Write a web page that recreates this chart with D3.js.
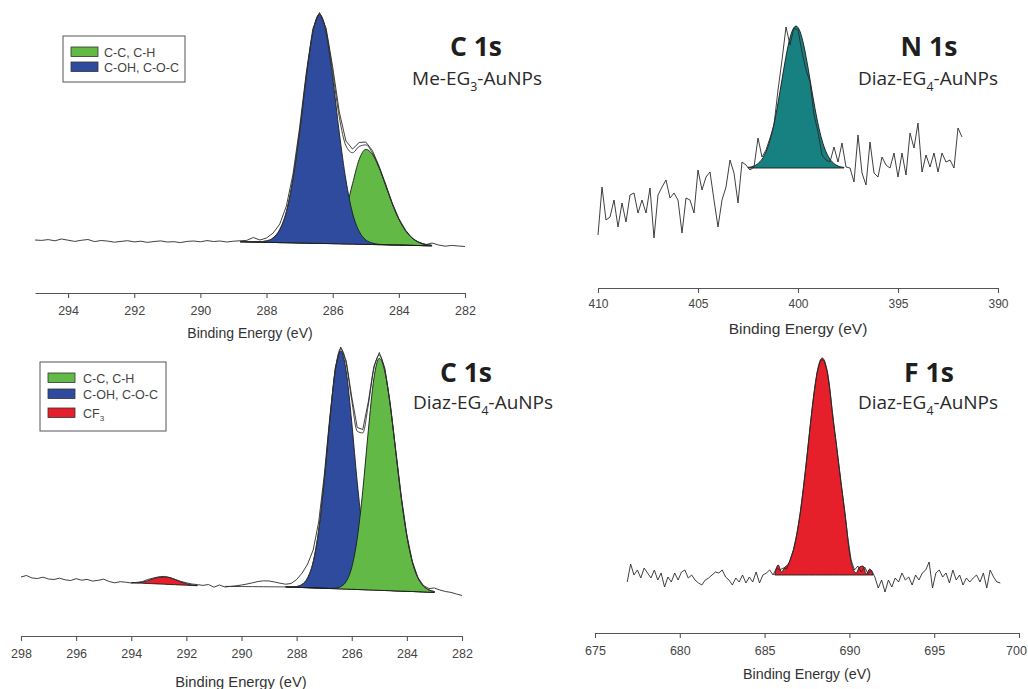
<!DOCTYPE html>
<html><head><meta charset="utf-8">
<script src="https://cdn.jsdelivr.net/npm/d3@7"></script>
<style>body{margin:0;background:#fff}</style>
</head><body>
<svg id="chart" width="1028" height="689"></svg>
<script>
// ===== Panel A: C 1s, Me-EG3-AuNPs (intensity, a.u.) =====
const c1aRawStart = 295.0, c1aRawStep = -0.2;
const c1aRaw = [10.0, 9.6, 10.4, 9.2, 11.0, 9.8, 8.6, 9.7, 10.5, 8.4, 9.5, 8.9, 7.8, 8.6, 9.3, 8.1, 8.8, 7.6, 8.5, 9.1, 8.0, 8.3, 7.4, 8.6, 9.0, 8.2, 9.4, 8.5, 9.0, 8.0, 8.8, 9.2, 9.6, 12.5, 10.0, 12.0, 17.0, 26.0, 44.0, 76.0, 122.5, 177.0, 221.5, 237.5, 222.0, 183.0, 138.0, 109.0, 101.0, 107.5, 108.0, 99.5, 84.0, 66.0, 47.0, 31.5, 20.0, 12.0, 7.5, 5.2, 7.0, 5.0, 3.8, 4.6, 4.0, 3.5];
const c1aFitStart = 288.8, c1aFitStep = -0.2;
const c1aBase = [8.3, 8.2, 8.0, 7.9, 7.7, 7.6, 7.4, 7.3, 7.2, 7.0, 6.9, 6.7, 6.6, 6.5, 6.3, 6.2, 6.0, 5.9, 5.7, 5.6, 5.5, 5.3, 5.2, 5.0, 4.9, 4.8, 4.6, 4.5, 4.3, 4.2];
const c1aCC = [8.3, 8.2, 8.0, 7.9, 7.7, 7.6, 7.4, 7.3, 7.2, 7.0, 6.9, 6.7, 7.0, 8.1, 11.9, 21.7, 40.3, 66.3, 90.5, 100.6, 95.7, 82.4, 64.7, 46.3, 30.8, 19.4, 12.0, 7.9, 5.7, 4.7];
const c1aCO = [8.3, 8.2, 8.1, 8.3, 9.1, 12.1, 20.4, 38.3, 71.2, 118.0, 172.9, 217.7, 235.6, 217.5, 172.3, 117.2, 70.0, 36.9, 18.7, 10.1, 6.9, 5.65, 5.3, 5.0, 4.9, 4.8, 4.6, 4.5, 4.3, 4.2];
const c1aEnvelope = [8.3, 8.2, 8.1, 8.3, 9.1, 12.1, 20.4, 38.3, 71.2, 118.0, 172.9, 217.7, 236.0, 219.1, 177.9, 132.7, 104.3, 97.3, 103.5, 105.1, 97.1, 82.8, 64.8, 46.3, 30.8, 19.4, 12.0, 7.9, 5.7, 4.7];
const c1aTicks = [294, 292, 290, 288, 286, 284, 282];

// ===== Panel B: N 1s, Diaz-EG4-AuNPs =====
const n1sRawStart = 410.0, n1sRawStep = -0.2;
const n1sRaw = [15, 63, 30, 33, 50, 23, 47, 28, 55, 57, 37, 50, 37, 62, 12, 55, 63, 70, 52, 57, 50, 17, 52, 50, 37, 80, 60, 73, 78, 50, 23, 50, 63, 90, 77, 47, 88, 85, 80, 83, 112, 93, 100, 112, 125, 160, 190, 223, 205, 222, 220, 198, 180, 168, 135, 118, 95, 90, 88, 103, 88, 107, 83, 82, 68, 115, 77, 65, 108, 77, 73, 93, 85, 82, 97, 73, 97, 75, 117, 102, 127, 78, 95, 83, 97, 78, 97, 88, 90, 82, 122, 113];
const n1sFitStart = 402.5, n1sFitStep = -0.2;
const n1sBaseLevel = 82;
const n1sPeak = [82.6, 83.3, 85.0, 88.3, 94.1, 103.5, 117.5, 136.2, 158.7, 182.4, 203.7, 218.6, 224.0, 218.6, 203.7, 182.4, 158.7, 136.2, 117.5, 103.5, 94.1, 88.3, 85.0, 83.3, 82.6];
const n1sTicks = [410, 405, 400, 395, 390];

// ===== Panel C: C 1s, Diaz-EG4-AuNPs =====
const c1bRawStart = 298.0, c1bRawStep = -0.2;
const c1bRaw = [63.0, 64.5, 62.0, 61.5, 62.8, 61.0, 60.5, 61.8, 60.2, 59.5, 61.3, 59.8, 60.6, 58.9, 59.7, 60.8, 58.5, 57.2, 58.3, 57.8, 57.0, 57.6, 58.4, 60.5, 62.0, 63.2, 63.6, 62.5, 60.5, 58.6, 57.2, 56.0, 55.4, 54.6, 55.5, 52.8, 55.0, 53.0, 53.6, 54.2, 55.0, 56.0, 57.2, 58.5, 59.2, 59.0, 58.0, 56.8, 55.8, 56.5, 60.5, 67.0, 76.0, 90.0, 118.0, 164.0, 222.0, 272.0, 293.0, 279.0, 243.0, 212.5, 210.5, 238.0, 273.5, 287.5, 272.0, 236.0, 189.0, 143.0, 105.0, 78.5, 62.5, 54.5, 51.5, 52.0, 50.0, 48.5, 47.6, 46.0, 44.5];
const c1bFitStart = 288.4, c1bFitStep = -0.2;
const c1bBase = [53.1, 52.9, 52.7, 52.5, 52.3, 52.1, 51.9, 51.7, 51.5, 51.3, 51.1, 50.9, 50.7, 50.5, 50.3, 50.1, 49.9, 49.7, 49.5, 49.3, 49.1, 48.9, 48.7, 48.5, 48.3, 48.1, 47.9, 47.7];
const c1bCO = [53.1, 53.1, 53.5, 55.6, 62.1, 78.0, 109.6, 158.8, 218.4, 269.1, 289.1, 268.7, 217.6, 157.6, 108.0, 76.0, 59.7, 52.8, 50.3, 49.5, 49.1, 48.9, 48.7, 48.5, 48.3, 48.1, 47.9, 47.7];
const c1bCC = [53.1, 52.9, 52.7, 52.5, 52.3, 52.1, 51.9, 51.7, 51.6, 51.8, 53.4, 58.6, 72.6, 101.6, 149.4, 209.1, 261.0, 281.7, 268.6, 233.7, 187.5, 141.4, 103.9, 77.8, 62.2, 54.0, 50.1, 48.4];
const c1bEnvStart = 290.6, c1bEnvStep = -0.2;
const c1bEnvelope = [53.6, 53.6, 53.5, 53.5, 53.4, 53.4, 53.3, 53.3, 53.2, 53.2, 53.1, 53.1, 53.1, 53.5, 55.6, 62.1, 78.0, 109.6, 158.8, 218.5, 269.6, 291.4, 276.4, 239.5, 208.7, 207.1, 235.0, 270.8, 284.8, 269.4, 233.9, 187.5, 141.4, 103.9, 77.8, 62.2, 54.0, 50.1, 48.4];
const c1bCF3Start = 294.0, c1bCF3Step = -0.2;
const c1bCF3 = [57.3, 57.2, 57.8, 59.3, 61.3, 62.6, 63.0, 62.3, 60.3, 58.0, 56.3, 55.1, 54.4];
const c1bCF3Base = [57.3, 57.0, 56.8, 56.5, 56.3, 56.0, 55.8, 55.5, 55.3, 55.0, 54.8, 54.5, 54.3];
const c1bTicks = [298, 296, 294, 292, 290, 288, 286, 284, 282];

// ===== Panel D: F 1s, Diaz-EG4-AuNPs =====
const f1sRawStart = 676.9, f1sRawStep = 0.2;
const f1sRaw = [58, 76, 65, 70, 62, 72, 67, 62, 70, 60, 67, 53, 63, 58, 67, 60, 68, 70, 62, 65, 60, 57, 55, 60, 62, 65, 68, 67, 70, 63, 60, 55, 62, 58, 65, 57, 63, 58, 68, 57, 65, 67, 70, 65, 72, 70, 72, 71, 80, 90, 106, 127, 154, 184, 216, 245, 268, 280, 280, 268, 243, 213, 186, 158, 132, 103, 80, 70, 74, 68, 73, 66, 70, 63, 52, 60, 48, 60, 53, 62, 58, 67, 60, 63, 55, 65, 60, 67, 70, 78, 52, 67, 70, 63, 67, 57, 70, 60, 65, 55, 62, 58, 62, 65, 58, 67, 52, 70, 63, 58, 57];
const f1sFitStart = 685.6, f1sFitStep = 0.2;
const f1sBaseLevel = 65;
const f1sPeak = [65, 75, 68, 73, 76, 84.5, 97.3, 115.5, 139.4, 168.2, 199.8, 231.0, 257.7, 275.6, 282.0, 275.6, 257.7, 226, 200, 172, 145, 118, 88, 72, 67, 73, 74, 66, 71, 65];
const f1sTicks = [675, 680, 685, 690, 695, 700];

// ===== colours / labels =====
const GREEN = "#62b946", BLUE = "#2f4b9d", TEAL = "#178181", RED = "#e5202a";
const legendA = [{parts: [{t: "C-C, C-H"}], color: GREEN}, {parts: [{t: "C-OH, C-O-C"}], color: BLUE}];
const legendC = [{parts: [{t: "C-C, C-H"}], color: GREEN}, {parts: [{t: "C-OH, C-O-C"}], color: BLUE}, {parts: [{t: "CF"}, {t: "3", sub: true}], color: RED}];

const svg = d3.select("#chart");

function pts(start, step, values, base) {
  return values.map((v, i) => ({e: start + i * step, v: v, b: base == null ? 0 : (Array.isArray(base) ? base[i] : base)}));
}

function richText(g, x, y, parts, opts) {
  const t = g.append("text").attr("x", x).attr("y", y)
    .attr("text-anchor", opts.anchor || "start")
    .attr("font-family", opts.family).attr("font-size", opts.size)
    .attr("font-weight", opts.weight || "normal").attr("fill", opts.fill || "#222");
  let shift = 0;
  parts.forEach(p => {
    const ts = t.append("tspan").text(p.t);
    if (p.sub) { ts.attr("dy", opts.size * 0.3 - shift).attr("font-size", opts.size * 0.65); shift = opts.size * 0.3; }
    else if (shift) { ts.attr("dy", -shift); shift = 0; }
  });
  return t;
}

function drawPanel(p) {
  const g = svg.append("g");
  const x = d3.scaleLinear().domain(p.xDomain).range(p.xRange);
  const y = d3.scaleLinear().domain([0, 100]).range([p.yZero, p.yZero - 100]);
  const area = d3.area().x(d => x(d.e)).y0(d => y(d.b)).y1(d => y(d.v)).curve(d3.curveMonotoneX);
  const line = d3.line().x(d => x(d.e)).y(d => y(d.v));

  p.components.forEach(c => {
    g.append("path").datum(c.data).attr("d", area)
      .attr("fill", c.color).attr("stroke", "#1b1b1b").attr("stroke-width", 0.9);
  });
  if (p.envelope) {
    g.append("path").datum(p.envelope).attr("d", line.curve(d3.curveMonotoneX))
      .attr("fill", "none").attr("stroke", "#333").attr("stroke-width", 0.9);
  }
  g.append("path").datum(p.raw).attr("d", d3.line().x(d => x(d.e)).y(d => y(d.v)).curve(p.rawCurve || d3.curveLinear))
    .attr("fill", "none").attr("stroke", "#2a2a2a").attr("stroke-width", 0.9);

  // axis
  const ax = g.append("g").attr("transform", `translate(0,${p.axisY})`)
    .call(d3.axisBottom(x).tickValues(p.ticks).tickSize(5).tickSizeOuter(0).tickPadding(p.tickPad));
  ax.select(".domain").attr("stroke", "#555").attr("stroke-width", 1.1);
  ax.selectAll(".tick line").attr("stroke", "#555").attr("stroke-width", 1.1);
  ax.selectAll(".tick text").attr("font-family", "'Liberation Sans', Arial, sans-serif")
    .attr("font-size", p.tickSize).attr("fill", "#444");
  if (p.lastTickDx) ax.selectAll(".tick text").filter((d, i, n) => i === n.length - 1).attr("dx", p.lastTickDx);
  g.append("text").attr("x", p.xTitle[0]).attr("y", p.xTitle[1]).attr("text-anchor", "middle")
    .attr("font-family", "'Liberation Sans', Arial, sans-serif").attr("font-size", p.xTitleSize)
    .attr("fill", "#333").text("Binding Energy (eV)");

  // titles
  richText(g, p.title[0], p.title[1], [{t: p.titleText}], {anchor: "middle", family: "'Open Sans', sans-serif", size: 26.5, weight: "bold", fill: "#1e1e1e"});
  richText(g, p.sub[0], p.sub[1], p.subParts, {anchor: "middle", family: "'Open Sans', sans-serif", size: 19, fill: "#2a2a2a"});

  // legend
  if (p.legend) {
    const L = p.legendBox;
    g.append("rect").attr("x", L.x).attr("y", L.y).attr("width", L.w).attr("height", L.h)
      .attr("fill", "#fff").attr("stroke", "#555").attr("stroke-width", 1);
    p.legend.forEach((it, i) => {
      const ry = L.rowY[i];
      g.append("rect").attr("x", L.sx).attr("y", ry - 5).attr("width", 27).attr("height", 9.5)
        .attr("fill", it.color).attr("stroke", "#333").attr("stroke-width", 0.8);
      richText(g, L.tx, ry + 4.5, it.parts, {family: "'Liberation Sans', Arial, sans-serif", size: 12.5, fill: "#444"});
    });
  }
}

drawPanel({
  xDomain: [295, 282], xRange: [35, 465], yZero: 250, axisY: 293, ticks: c1aTicks, tickPad: 8, tickSize: 12.5,
  xTitle: [250, 338], xTitleSize: 14,
  raw: pts(c1aRawStart, c1aRawStep, c1aRaw), rawCurve: d3.curveLinear,
  components: [
    {data: pts(c1aFitStart, c1aFitStep, c1aCC, c1aBase), color: GREEN},
    {data: pts(c1aFitStart, c1aFitStep, c1aCO, c1aBase), color: BLUE}
  ],
  envelope: pts(c1aFitStart, c1aFitStep, c1aEnvelope),
  title: [476, 56], titleText: "C 1s", sub: [477, 85], subParts: [{t: "Me-EG"}, {t: "3", sub: true}, {t: "-AuNPs"}],
  legend: legendA, legendBox: {x: 63, y: 36, w: 122, h: 46, sx: 71, tx: 104, rowY: [52, 67]}
});

drawPanel({
  xDomain: [410, 390], xRange: [598, 998], yZero: 250, axisY: 288, ticks: n1sTicks, tickPad: 6, tickSize: 12,
  xTitle: [798, 334], xTitleSize: 15.5,
  raw: pts(n1sRawStart, n1sRawStep, n1sRaw), rawCurve: d3.curveLinear,
  components: [{data: pts(n1sFitStart, n1sFitStep, n1sPeak, n1sBaseLevel), color: TEAL}],
  envelope: null,
  title: [929, 56], titleText: "N 1s", sub: [928, 85], subParts: [{t: "Diaz-EG"}, {t: "4", sub: true}, {t: "-AuNPs"}]
});

drawPanel({
  xDomain: [298, 282], xRange: [21, 462], yZero: 640, axisY: 636, ticks: c1bTicks, tickPad: 8, tickSize: 12.5,
  xTitle: [241, 687], xTitleSize: 14.7,
  raw: pts(c1bRawStart, c1bRawStep, c1bRaw), rawCurve: d3.curveLinear,
  components: [
    {data: pts(c1bCF3Start, c1bCF3Step, c1bCF3, c1bCF3Base), color: RED},
    {data: pts(c1bFitStart, c1bFitStep, c1bCO, c1bBase), color: BLUE},
    {data: pts(c1bFitStart, c1bFitStep, c1bCC, c1bBase), color: GREEN}
  ],
  envelope: pts(c1bEnvStart, c1bEnvStep, c1bEnvelope),
  title: [466, 382], titleText: "C 1s", sub: [483, 409], subParts: [{t: "Diaz-EG"}, {t: "4", sub: true}, {t: "-AuNPs"}],
  legend: legendC, legendBox: {x: 40, y: 362, w: 126, h: 69, sx: 48, tx: 83, rowY: [378, 394, 413]}
});

drawPanel({
  xDomain: [675, 700], xRange: [595, 1019], yZero: 640, axisY: 633, ticks: f1sTicks, tickPad: 8, tickSize: 12.5,
  xTitle: [807, 679], xTitleSize: 14.3, lastTickDx: -3,
  raw: pts(f1sRawStart, f1sRawStep, f1sRaw), rawCurve: d3.curveLinear,
  components: [{data: pts(f1sFitStart, f1sFitStep, f1sPeak, f1sBaseLevel), color: RED}],
  envelope: null,
  title: [929, 382], titleText: "F 1s", sub: [928, 409], subParts: [{t: "Diaz-EG"}, {t: "4", sub: true}, {t: "-AuNPs"}]
});
</script>
</body></html>
